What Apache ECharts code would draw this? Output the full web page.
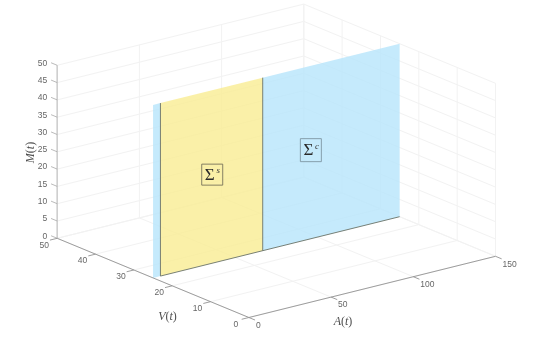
<!DOCTYPE html>
<html>
<head>
<meta charset="utf-8">
<script src="https://cdn.jsdelivr.net/npm/echarts@6/dist/echarts.min.js"></script>
<style>html,body{margin:0;padding:0;background:#fff}#c{width:535px;height:352px}</style>
</head>
<body>
<div id="c"></div>
<script>
// ---- data (axis units: A(t), V(t), M(t)) ----
const aTicks = [0, 50, 100, 150];
const vTicks = [0, 10, 20, 30, 40, 50];
const mTicks = [0, 5, 10, 15, 20, 25, 30, 35, 40, 45, 50];
const planeV = 25;
const sigmaCLeft = [0, 4.5];
const sigmaCRight = [66.7, 150];
const sigmaSRange = [4.5, 66.7];
const mRange = [0, 50];
const labelSigmaS = [36, 25, 25.6];
const labelSigmaC = [96, 25, 25.6];

// ---- view projection (axis units -> pixel plane) ----
const ORIGIN = [248.9, 317.5];
const PER_A = [246.6 / 150, -61.2 / 150];
const PER_V = [-191.7 / 50, -79.2 / 50];
const PER_M = [0, -173 / 50];
function project(a, v, m) {
  return [
    ORIGIN[0] + a * PER_A[0] + v * PER_V[0] + m * PER_M[0],
    ORIGIN[1] + a * PER_A[1] + v * PER_V[1] + m * PER_M[1]
  ];
}

const aMax = aTicks[aTicks.length - 1], vMax = vTicks[vTicks.length - 1], mMax = mTicks[mTicks.length - 1];

// grid segments
const gridSegs = [];
mTicks.forEach(m => {
  gridSegs.push([0, vMax, m, aMax, vMax, m]);
  gridSegs.push([aMax, vMax, m, aMax, 0, m]);
});
aTicks.forEach(a => {
  gridSegs.push([a, vMax, 0, a, vMax, mMax]);
  gridSegs.push([a, 0, 0, a, vMax, 0]);
});
vTicks.forEach(v => {
  gridSegs.push([aMax, v, 0, aMax, v, mMax]);
  gridSegs.push([0, v, 0, aMax, v, 0]);
});

// axis rulers and tick marks
const axisSegs = [[0, 0, 0, aMax, 0, 0], [0, 0, 0, 0, vMax, 0]];
aTicks.forEach(a => axisSegs.push([a, 0, 0, a, -1.6, 0]));
vTicks.forEach(v => axisSegs.push([0, v, 0, -4.4, v, 0]));
const mAxisSegs = [[0, vMax, 0, 0, vMax, mMax]];
const mTickSegs = mTicks.map(m => [0, vMax, m, 0, vMax + 1.6, m]);

// planes: a1,a2,v,m1,m2
const BLUE = '#b6e5fb', YELLOW = '#f9ec92';
const planes = [
  [sigmaCLeft[0], sigmaCLeft[1], planeV, mRange[0], mRange[1]],
  [sigmaCRight[0], sigmaCRight[1], planeV, mRange[0], mRange[1]],
  [sigmaSRange[0], sigmaSRange[1], planeV, mRange[0], mRange[1]]
];
const planeColors = [BLUE, BLUE, YELLOW];
const edges = [
  [sigmaSRange[0], planeV, 0, sigmaCRight[1], planeV, 0],
  [sigmaSRange[0], planeV, 0, sigmaSRange[0], planeV, mMax],
  [sigmaSRange[1], planeV, 0, sigmaSRange[1], planeV, mMax]
];

// tick labels: a,v,m,text,dx,dy,align
const tickLabels = [];
aTicks.forEach(a => tickLabels.push([a, 0, 0, String(a), 7, 8, 'left']));
vTicks.forEach(v => tickLabels.push([0, v, 0, String(v), -13, 7, 'center']));
mTicks.forEach(m => tickLabels.push([0, vMax, m, String(m), -10, -2, 'right']));

const FONT_SANS = '"Liberation Sans", Arial, sans-serif';
const FONT_SERIF = '"Liberation Serif", "Times New Roman", serif';

function segSeries(name, data, color, width) {
  return {
    type: 'custom', name, silent: true, clip: false, data,
    encode: { x: 0, y: 1 },
    renderItem(p, api) {
      const a = api.coord(project(api.value(0), api.value(1), api.value(2)));
      const b = api.coord(project(api.value(3), api.value(4), api.value(5)));
      return { type: 'line', shape: { x1: a[0], y1: a[1], x2: b[0], y2: b[1] },
        style: { stroke: color, lineWidth: width, fill: null } };
    }
  };
}

function mathRich(sym, sub) {
  return {
    text: '{i|' + sym + '}{r|(}{i|' + sub + '}{r|)}',
    rich: {
      i: { fontFamily: FONT_SERIF, fontStyle: 'italic', fontSize: 12, fill: '#505050' },
      r: { fontFamily: FONT_SERIF, fontSize: 12, fill: '#505050' }
    }
  };
}

const axisTitleNames = ['M', 'V', 'A'];
const axisTitleAnchors = [[31, 152.5], [167.5, 317], [343, 322]];
const axisTitleRotations = [Math.PI / 2, 0, 0];

const option = {
  animation: false,
  backgroundColor: '#fff',
  grid: { left: 0, right: 0, top: 0, bottom: 0 },
  xAxis: { type: 'value', min: 0, max: 535, show: false },
  yAxis: { type: 'value', min: 0, max: 352, inverse: true, show: false },
  series: [
    segSeries('grid', gridSegs, '#f2f2f2', 1),
    {
      type: 'custom', name: 'planes', silent: true, clip: false, data: planes,
      encode: { x: 0, y: 2 },
      renderItem(p, api) {
        const a1 = api.value(0), a2 = api.value(1), v = api.value(2), m1 = api.value(3), m2 = api.value(4);
        const pts = [[a1, v, m1], [a2, v, m1], [a2, v, m2], [a1, v, m2]].map(q => api.coord(project(q[0], q[1], q[2])));
        return { type: 'polygon', shape: { points: pts },
          style: { fill: planeColors[p.dataIndex], opacity: 0.8 } };
      }
    },
    segSeries('edges', edges, '#6a7368', 0.9),
    segSeries('axisM', mAxisSegs, '#cfcfcf', 1.6),
    segSeries('ticksM', mTickSegs, '#a8a8a8', 0.8),
    segSeries('axes', axisSegs, '#939393', 0.9),
    {
      type: 'custom', name: 'tickLabels', silent: true, clip: false, data: tickLabels,
      encode: { x: 0, y: 1 },
      renderItem(p, api) {
        const row = tickLabels[p.dataIndex];
        const q = api.coord(project(row[0], row[1], row[2]));
        return { type: 'text', x: q[0] + row[4], y: q[1] + row[5],
          style: { text: row[3], align: row[6], verticalAlign: 'middle',
            font: '8.5px ' + FONT_SANS, fill: '#666666' } };
      }
    },
    {
      type: 'custom', name: 'axisTitles', silent: true, clip: false, data: axisTitleAnchors,
      encode: { x: 0, y: 1 },
      renderItem(p, api) {
        const q = api.coord([api.value(0), api.value(1)]);
        const m = mathRich(axisTitleNames[p.dataIndex], 't');
        return { type: 'text', x: q[0], y: q[1], rotation: axisTitleRotations[p.dataIndex],
          style: { text: m.text, rich: m.rich, align: 'center', verticalAlign: 'middle' } };
      }
    },
    {
      type: 'custom', name: 'regionLabels', silent: true, clip: false,
      data: [labelSigmaS, labelSigmaC],
      encode: { x: 0, y: 2 },
      renderItem(p, api) {
        const i = p.dataIndex;
        const sup = i === 0 ? 's' : 'c';
        const h = i === 0 ? 21 : 23;
        const q = api.coord(project(api.value(0), api.value(1), api.value(2)));
        return { type: 'group', children: [
          { type: 'rect', shape: { x: q[0] - 10.5, y: q[1] - h / 2, width: 21, height: h },
            style: { fill: null, stroke: i === 0 ? '#77735a' : '#7f97a3', lineWidth: 0.9 } },
          { type: 'text', x: q[0] - 2.5, y: q[1] + 0.5,
            style: { text: 'Σ', align: 'center', verticalAlign: 'middle',
              font: '17px ' + FONT_SERIF, fill: '#2a2a2a' } },
          { type: 'text', x: q[0] + 6, y: q[1] - 4,
            style: { text: sup, align: 'center', verticalAlign: 'middle',
              font: 'italic 9px ' + FONT_SERIF, fill: '#3a3a3a' } }
        ] };
      }
    }
  ]
};
echarts.init(document.getElementById('c'), null, { renderer: 'canvas' }).setOption(option);
</script>
</body>
</html>
